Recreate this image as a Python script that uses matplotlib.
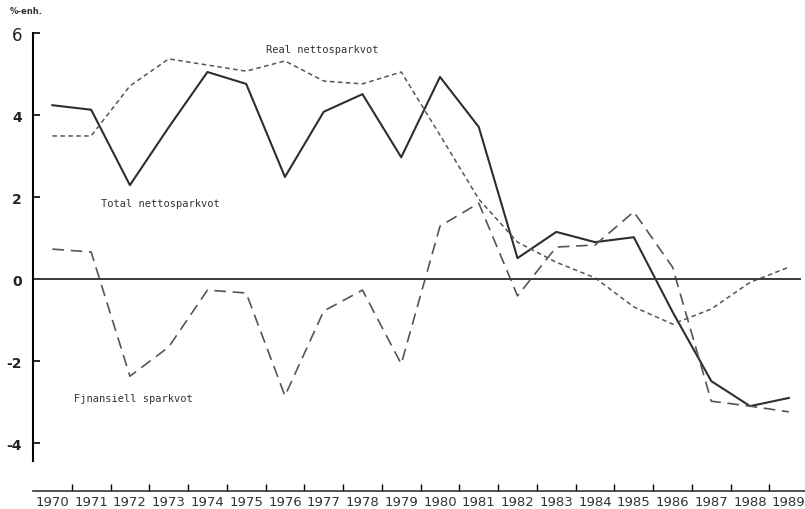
import matplotlib.pyplot as plt
import numpy as np

# data (percent)
years = [str(y) for y in range(1970, 1990)]
total = [4.24, 4.13, 2.29, 3.7, 5.05, 4.76, 2.49, 4.08, 4.51, 2.97,
         4.93, 3.71, 0.51, 1.15, 0.9, 1.02, -0.8, -2.49, -3.1, -2.9]
real = [3.49, 3.49, 4.71, 5.37, 5.22, 5.07, 5.32, 4.83, 4.76, 5.05,
        3.51, 1.95, 0.9, 0.41, 0.03, -0.68, -1.1, -0.73, -0.08, 0.29]
finans = [0.73, 0.66, -2.37, -1.66, -0.27, -0.34, -2.85, -0.78, -0.27, -2.07,
          1.29, 1.85, -0.41, 0.78, 0.83, 1.64, 0.29, -2.98, -3.1, -3.24]
yticks = [-4, -2, 0, 2, 4, 6]

x = np.arange(len(years))

fig = plt.figure(figsize=(8.05, 5.1), dpi=100)
ax = fig.add_axes([0.041, 0.0353, 0.963, 0.914])

ax.plot(x, total, color="#2e2e2e", lw=1.5)
ax.plot(x, real, color="#555555", lw=1.1, dashes=(3, 2.2))
ax.plot(x, finans, color="#555555", lw=1.2, dashes=(7, 4))
ax.axhline(0, xmin=0, xmax=0.99, color="#3a3a3a", lw=1.4)

ax.set_xlim(-0.5, 19.5)
ax.set_ylim(-5.17, 6.2)

for s in ["top", "right"]:
    ax.spines[s].set_visible(False)
ax.spines["left"].set_bounds(-4.45, 6.0)
ax.spines["left"].set_linewidth(1.5)
ax.spines["bottom"].set_linewidth(1.2)
ax.spines["bottom"].set_color("#333333")

ax.set_yticks(yticks)
ax.set_yticklabels([str(v) for v in yticks], fontsize=10, fontweight="bold",
                   color="#222222")
ax.get_yticklabels()[-1].set_fontsize(12)
ax.get_yticklabels()[-1].set_fontweight("normal")
ax.tick_params(axis="y", direction="in", length=5, width=1.2, pad=8)

# year labels sit between the tick marks
ax.set_xticks(x)
ax.set_xticklabels(years, fontsize=9.5, color="#333333")
ax.set_xticks(x[:-1] + 0.5, minor=True)
ax.tick_params(axis="x", which="major", length=0, pad=3)
ax.tick_params(axis="x", which="minor", direction="in", length=5, width=1)

mono = dict(family="DejaVu Sans Mono", fontsize=7.5, color="#333333")
ax.text(5.5, 5.6, "Real nettosparkvot", ha="left", va="center", **mono)
ax.text(1.25, 1.86, "Total nettosparkvot", ha="left", va="center", **mono)
ax.text(0.55, -2.9, "Fjnansiell sparkvot", ha="left", va="center", **mono)

fig.text(0.012, 0.972, "%-enh.", fontsize=6, fontweight="bold", color="#333333")

fig.savefig("out.png", dpi=100)
